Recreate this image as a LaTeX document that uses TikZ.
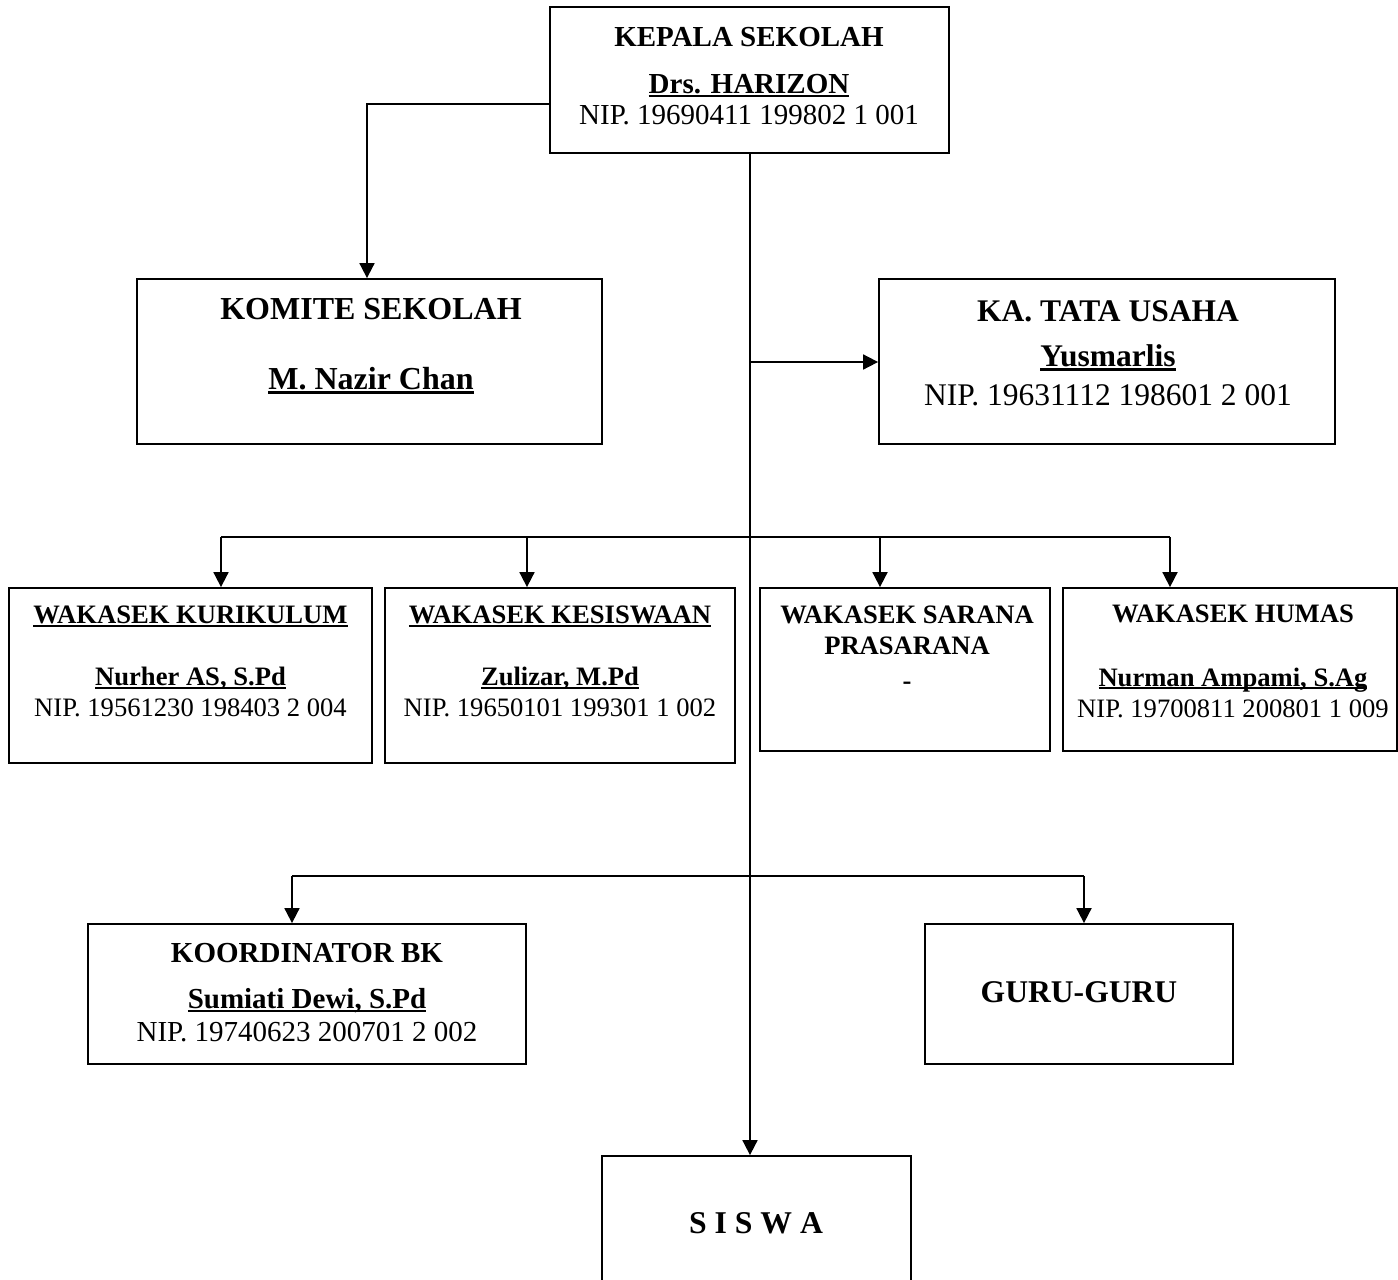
\documentclass[tikz,border=0pt]{standalone}
\usepackage{fontspec}
\setmainfont{Liberation Serif}
\usetikzlibrary{arrows.meta,fit}
\newcommand\fsz[1]{\fontsize{#1}{#1}\selectfont}
\newcommand\myul[1]{\setbox0=\hbox{#1}\rlap{\rule[-0.13em]{\wd0}{0.085em}}\box0}
\begin{document}
\begin{tikzpicture}[x=1pt,y=-1pt,
  box/.style={draw, line width=1.8pt, inner sep=0pt, rectangle},
  conn/.style={line width=1.8pt},
  arr/.style={conn, -{Triangle[width=15pt,length=15pt]}},
  txt/.style={anchor=base, inner sep=0pt, align=center}]
\useasboundingbox (0,0) rectangle (1398,1280);
\clip (0,0) rectangle (1398,1280);

% boxes
\node[box, fit={(550,7) (949,153)}] (kepala) {};
\node[box, fit={(137,279) (602,444)}] (komite) {};
\node[box, fit={(879,279) (1335,444)}] (tu) {};
\node[box, fit={(9,588) (372,763)}] (kur) {};
\node[box, fit={(385,588) (735,763)}] (kes) {};
\node[box, fit={(760,588) (1050,751)}] (sar) {};
\node[box, fit={(1063,588) (1397,751)}] (hum) {};
\node[box, fit={(88,924) (526,1064)}] (bk) {};
\node[box, fit={(925,924) (1233,1064)}] (guru) {};
\node[box, fit={(602,1156) (911,1330)}] (siswa) {};

% texts
\node[txt] (kepala1) at (749,46.6) {\fsz{29}\bfseries KEPALA SEKOLAH};
\node[txt] (kepala2) at (749,93.6) {\fsz{29}\bfseries\myul{Drs. HARIZON}};
\node[txt] (kepala3) at (749,124.8) {\fsz{29}NIP. 19690411 199802 1 001};

\node[txt] (komite1) at (371,319.6) {\fsz{32}\bfseries KOMITE SEKOLAH};
\node[txt] (komite2) at (371,389.6) {\fsz{32}\bfseries\myul{M. Nazir Chan}};

\node[txt] (tu1) at (1108,321.4) {\fsz{31.5}\bfseries KA. TATA USAHA};
\node[txt] (tu2) at (1108,366.4) {\fsz{31.5}\bfseries\myul{Yusmarlis}};
\node[txt] (tu3) at (1108,405.6) {\fsz{31.5}NIP. 19631112 198601 2 001};

\node[txt] (kur1) at (190.5,623.8) {\fsz{26.6}\bfseries\myul{WAKASEK KURIKULUM}};
\node[txt] (kur2) at (190.5,685.8) {\fsz{26.6}\bfseries\myul{Nurher AS, S.Pd}};
\node[txt] (kur3) at (190.5,716) {\fsz{26.6}NIP. 19561230 198403 2 004};

\node[txt] (kes1) at (560,623.8) {\fsz{26.6}\bfseries\myul{WAKASEK KESISWAAN}};
\node[txt] (kes2) at (560,685.8) {\fsz{26.6}\bfseries\myul{Zulizar, M.Pd}};
\node[txt] (kes3) at (560,716) {\fsz{26.6}NIP. 19650101 199301 1 002};

\node[txt] (sar1) at (907,623.8) {\fsz{26.6}\bfseries WAKASEK SARANA};
\node[txt] (sar2) at (907,654.5) {\fsz{26.6}\bfseries PRASARANA};
\node[txt] (sar3) at (907,689) {\fsz{26.6}\bfseries -};

\node[txt] (hum1) at (1233,622) {\fsz{26.6}\bfseries WAKASEK HUMAS};
\node[txt] (hum2) at (1233,686) {\fsz{26.6}\bfseries\myul{Nurman Ampami, S.Ag}};
\node[txt] (hum3) at (1233,717) {\fsz{26.6}NIP. 19700811 200801 1 009};

\node[txt] (bk1) at (307,962.6) {\fsz{29}\bfseries KOORDINATOR BK};
\node[txt] (bk2) at (307,1008.6) {\fsz{29}\bfseries\myul{Sumiati Dewi, S.Pd}};
\node[txt] (bk3) at (307,1041.8) {\fsz{29}NIP. 19740623 200701 2 002};

\node[txt] (guru1) at (1079,1002.5) {\fsz{31.6}\bfseries GURU-GURU};

\node[txt] (siswa1) at (756,1233.5) {\fsz{31.7}\bfseries S I S W A};

% connector points
\coordinate (kl) at (550,104);
\coordinate (main) at (750,153);
\coordinate (jtu) at (750,362);
\coordinate (w1) at (221,537);
\coordinate (w2) at (527,537);
\coordinate (w3) at (880,537);
\coordinate (w4) at (1170,537);
\coordinate (g1) at (292,876);
\coordinate (g2) at (1084,876);

% connectors
\draw[arr] (kl) -| (komite.north -| 367,0);
\draw[arr] (main) -- (main |- siswa.north);
\draw[arr] (jtu) -- (jtu -| tu.west);
\draw[conn] (w1) -- (w4);
\draw[arr] (w1) -- (w1 |- kur.north);
\draw[arr] (w2) -- (w2 |- kes.north);
\draw[arr] (w3) -- (w3 |- sar.north);
\draw[arr] (w4) -- (w4 |- hum.north);
\draw[conn] (g1) -- (g2);
\draw[arr] (g1) -- (g1 |- bk.north);
\draw[arr] (g2) -- (g2 |- guru.north);
\end{tikzpicture}
\end{document}
